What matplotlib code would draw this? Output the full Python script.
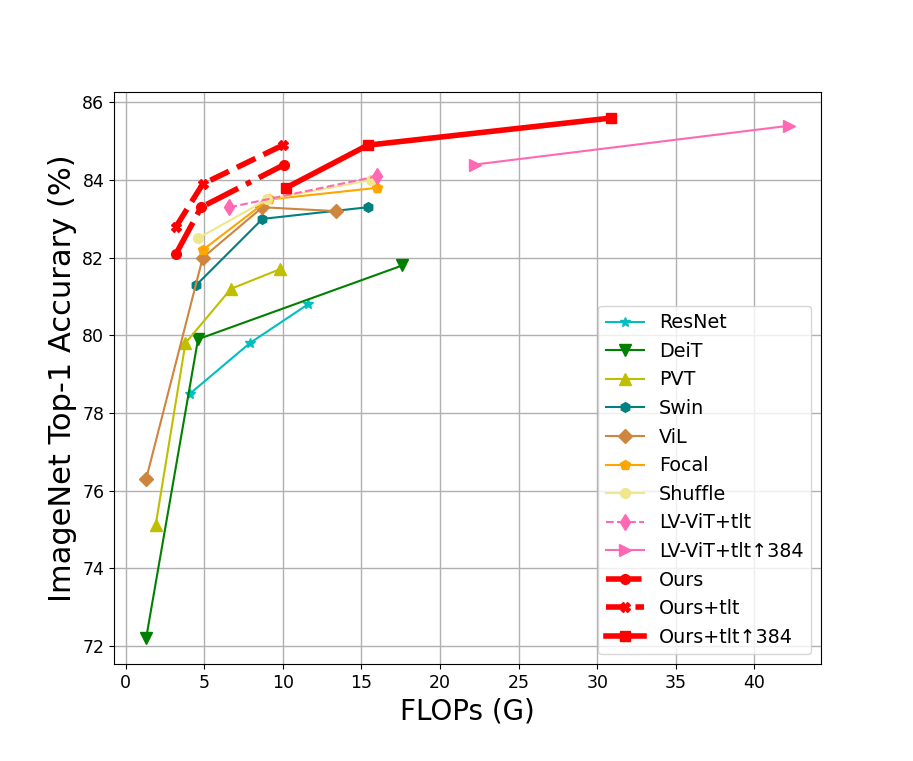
import matplotlib
matplotlib.use("Agg")
import matplotlib.pyplot as plt

resnet_x = [4.1, 7.9, 11.6]
resnet_y = [78.5, 79.8, 80.8]
deit_x = [1.3, 4.6, 17.6]
deit_y = [72.2, 79.9, 81.8]
pvt_x = [1.9, 3.8, 6.7, 9.8]
pvt_y = [75.1, 79.8, 81.2, 81.7]
swin_x = [4.5, 8.7, 15.4]
swin_y = [81.3, 83.0, 83.3]
vil_x = [1.3, 4.9, 8.7, 13.4]
vil_y = [76.3, 82.0, 83.3, 83.2]
focal_x = [4.9, 9.1, 16.0]
focal_y = [82.2, 83.5, 83.8]
shuffle_x = [4.6, 9.0, 15.6]
shuffle_y = [82.5, 83.5, 84.0]
lvvit_x = [6.6, 16.0]
lvvit_y = [83.3, 84.1]
lvvit384_x = [22.2, 42.2]
lvvit384_y = [84.4, 85.4]
ours_x = [3.2, 4.8, 10.1]
ours_y = [82.1, 83.3, 84.4]
ourstlt_x = [3.2, 4.9, 10.0]
ourstlt_y = [82.8, 83.9, 84.9]
ours384_x = [10.2, 15.4, 30.9]
ours384_y = [83.8, 84.9, 85.6]

fig = plt.figure(figsize=(9.13, 7.61), dpi=100)
ax = fig.add_axes([0.1249, 0.1275, 0.7744, 0.7516])

lw = 1.5
ax.plot(resnet_x, resnet_y, color='c', marker='*', ms=7, lw=lw, label='ResNet')
ax.plot(deit_x, deit_y, color='g', marker='v', ms=8, lw=lw, label='DeiT')
ax.plot(pvt_x, pvt_y, color='y', marker='^', ms=8, lw=lw, label='PVT')
ax.plot(swin_x, swin_y, color='teal', marker='h', ms=7, lw=lw, label='Swin')
ax.plot(vil_x, vil_y, color='peru', marker='D', ms=7, lw=lw, label='ViL')
ax.plot(focal_x, focal_y, color='orange', marker='p', ms=7, lw=lw, label='Focal')
ax.plot(shuffle_x, shuffle_y, color='khaki', marker='o', ms=7, lw=lw, label='Shuffle')
ax.plot(lvvit_x, lvvit_y, color='hotpink', marker='d', ms=8, lw=lw, ls='--', label='LV-ViT+tlt')
ax.plot(lvvit384_x, lvvit384_y, color='hotpink', marker='>', ms=8, lw=lw, label='LV-ViT+tlt\u2191384')
ax.plot(ours_x, ours_y, color='red', marker='o', ms=7, lw=4, ls='-.', label='Ours')
ax.plot(ourstlt_x, ourstlt_y, color='red', marker='X', ms=7, lw=4, ls='--', label='Ours+tlt')
ax.plot(ours384_x, ours384_y, color='red', marker='s', ms=7, lw=4, ls='-', label='Ours+tlt\u2191384')

ax.grid(True, color='#b0b0b0', lw=1)
ax.set_axisbelow(True)
ax.set_xticks([0, 5, 10, 15, 20, 25, 30, 35, 40])
ax.set_yticks([72, 74, 76, 78, 80, 82, 84, 86])
ax.tick_params(labelsize=12.5)
ax.set_xlabel('FLOPs (G)', fontsize=20)
ax.set_ylabel('ImageNet Top-1 Accurary (%)', fontsize=22)
ax.legend(loc='lower right', fontsize=13.8)

fig.savefig('out.png', dpi=100)
